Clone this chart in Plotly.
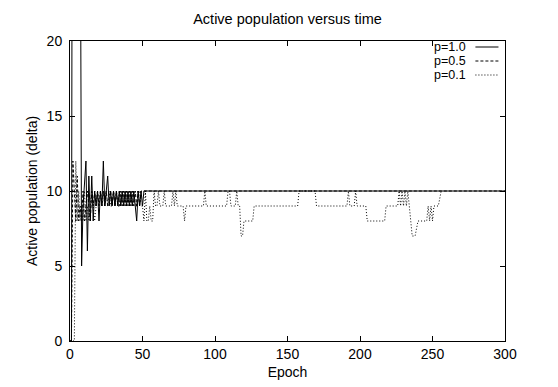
import plotly.graph_objects as go

# ---------------- data ----------------
epoch_p10 = [0, 1, 2, 6, 8, 9, 11, 12, 13, 14, 15, 16, 17, 18, 19, 20, 21, 22, 23, 24,
             25, 26, 27, 28, 29, 30, 31, 32, 33, 34, 35, 36, 37, 38, 39, 40, 41, 42, 43,
             44, 45, 46, 47, 48, 49, 50, 51, 300]
value_p10 = [0, 0, 60, 60, 5, 9, 12, 6, 11, 8, 11, 8, 10, 9, 10, 8, 10, 9, 12, 9,
             10, 11, 9, 10, 9, 10, 9, 10, 9, 10, 9, 10, 9, 10, 9, 10, 9, 10, 9,
             10, 9, 8, 10, 9, 10, 9, 10, 10]

epoch_p05 = [0, 1, 2, 3, 4, 5, 6, 7, 8, 9, 10, 11, 12, 13, 14, 15, 16, 17, 18, 19, 20,
             21, 22, 23, 24, 25, 26, 27, 28, 29, 30, 31, 32, 33, 34, 35, 36, 37, 38, 39,
             40, 41, 42, 43, 44, 45, 46, 47, 48, 49, 50, 300]
value_p05 = [0, 0, 12, 10, 8, 11, 8, 9, 8, 10, 8, 9, 10, 9, 8, 10, 9, 10, 9, 10, 9,
             10, 9, 10, 9, 10, 9, 9, 10, 9, 10, 9, 10, 9, 9, 10, 9, 10, 9, 10,
             9, 10, 9, 10, 9, 10, 9, 10, 9, 10, 10, 10]

epoch_p01 = [0, 3, 4, 5, 6, 7, 8, 9, 10, 11, 12, 13, 14, 15, 16, 17, 18, 19, 20, 21, 22,
             23, 24, 25, 26, 27, 28, 29, 30, 31, 32, 33, 34, 35, 36, 37, 38, 39, 40, 41,
             42, 43, 44, 45, 46, 47, 48, 49, 50, 51, 52, 53, 54, 55, 56, 57, 58, 59, 60,
             61, 62, 64, 65, 66, 70, 71, 72, 73, 74, 78, 79, 80, 92, 93, 94, 108, 109,
             110, 111, 114, 115, 116, 117, 118, 119, 120, 126, 127, 157, 158, 169, 170,
             191, 192, 193, 196, 197, 198, 204, 205, 217, 218, 226, 227, 228, 229, 230,
             231, 232, 233, 234, 235, 236, 238, 240, 246, 247, 248, 249, 250, 251,
             252, 254, 256, 257, 300]
value_p01 = [0, 0, 12, 8, 10, 8, 9, 8, 10, 8, 9, 8, 9, 10, 9, 8, 9, 10, 9, 10, 9,
             10, 9, 10, 9, 10, 9, 9, 10, 9, 10, 9, 10, 9, 10, 9, 10, 9, 10, 9,
             10, 9, 10, 9, 9, 10, 10, 9, 9, 8, 10, 8, 8, 9, 8, 8, 10, 9, 9,
             10, 9, 9, 10, 9, 9, 10, 9, 10, 9, 9, 8, 9, 9, 10, 9, 9, 10,
             10, 9, 9, 10, 9, 9, 7, 7, 8, 8, 9, 9, 10, 10, 9,
             9, 10, 9, 9, 10, 9, 9, 8, 8, 9, 9, 10, 9, 10, 9,
             10, 9, 10, 9, 8, 7, 7, 8, 8, 9, 8, 9, 8,
             9, 9, 9, 10, 10]

series_names = ["p=1.0", "p=0.5", "p=0.1"]
x_ticks = [0, 50, 100, 150, 200, 250, 300]
y_ticks = [0, 5, 10, 15, 20]

# ---------------- figure ----------------
FONT = "Liberation Sans, Arial, Helvetica, sans-serif"
dashes = ["solid", "3px,2px", "1px,2px"]
series = [(epoch_p10, value_p10), (epoch_p05, value_p05), (epoch_p01, value_p01)]

fig = go.Figure()
for (xs, ys), name, dash in zip(series, series_names, dashes):
    fig.add_trace(go.Scatter(x=xs, y=ys, mode="lines", name=name,
                             line=dict(color="black", width=1, dash=dash),
                             showlegend=False))

# the page body has an 8px margin, so the figure is drawn 8px smaller
W, H = 550, 379
L, R, T, B = 62, 53, 33, 46
PW, PH = W - L - R, H - T - B
fig.update_layout(
    width=W, height=H,
    margin=dict(l=L, r=R, t=T, b=B, autoexpand=False),
    paper_bgcolor="white", plot_bgcolor="white",
    font=dict(family=FONT, size=14, color="black"),
    title=dict(text="Active population versus time", x=(L + PW / 2) / W,
               xanchor="center", y=1 - 11 / H, yanchor="middle", yref="container",
               font=dict(family=FONT, size=14.5, color="black"), automargin=False),
)
fig.update_xaxes(range=[0, 300], tickvals=x_ticks, ticks="inside", ticklen=5,
                 showline=True, linecolor="black", linewidth=1, mirror="ticks",
                 showgrid=False, zeroline=False, tickcolor="black", automargin=False,
                 tickfont=dict(family=FONT, size=14, color="black"),
                 title=dict(text="Epoch", standoff=6,
                            font=dict(family=FONT, size=14, color="black")))
fig.update_yaxes(range=[0, 20], tickvals=y_ticks, ticks="inside", ticklen=5,
                 showline=True, linecolor="black", linewidth=1, mirror="ticks",
                 showgrid=False, zeroline=False, tickcolor="black", automargin=False,
                 ticklabelstandoff=4,
                 tickfont=dict(family=FONT, size=14, color="black"),
                 title=dict(text="Active population (delta)", standoff=5,
                            font=dict(family=FONT, size=14, color="black")))

# legend in gnuplot style: text on the left, line sample on the right
for i, (name, dash) in enumerate(zip(series_names, dashes)):
    yp = 1 - (6 + 14 * i) / PH
    fig.add_annotation(x=0.912, y=yp, xref="paper", yref="paper", text=name,
                       showarrow=False, xanchor="right", yanchor="middle",
                       borderpad=0, font=dict(family=FONT, size=12.5, color="black"))
    fig.add_shape(type="line", xref="paper", yref="paper", x0=0.932, x1=0.985,
                  y0=yp, y1=yp, line=dict(color="black", width=1, dash=dash))

fig.write_html("out.html")
